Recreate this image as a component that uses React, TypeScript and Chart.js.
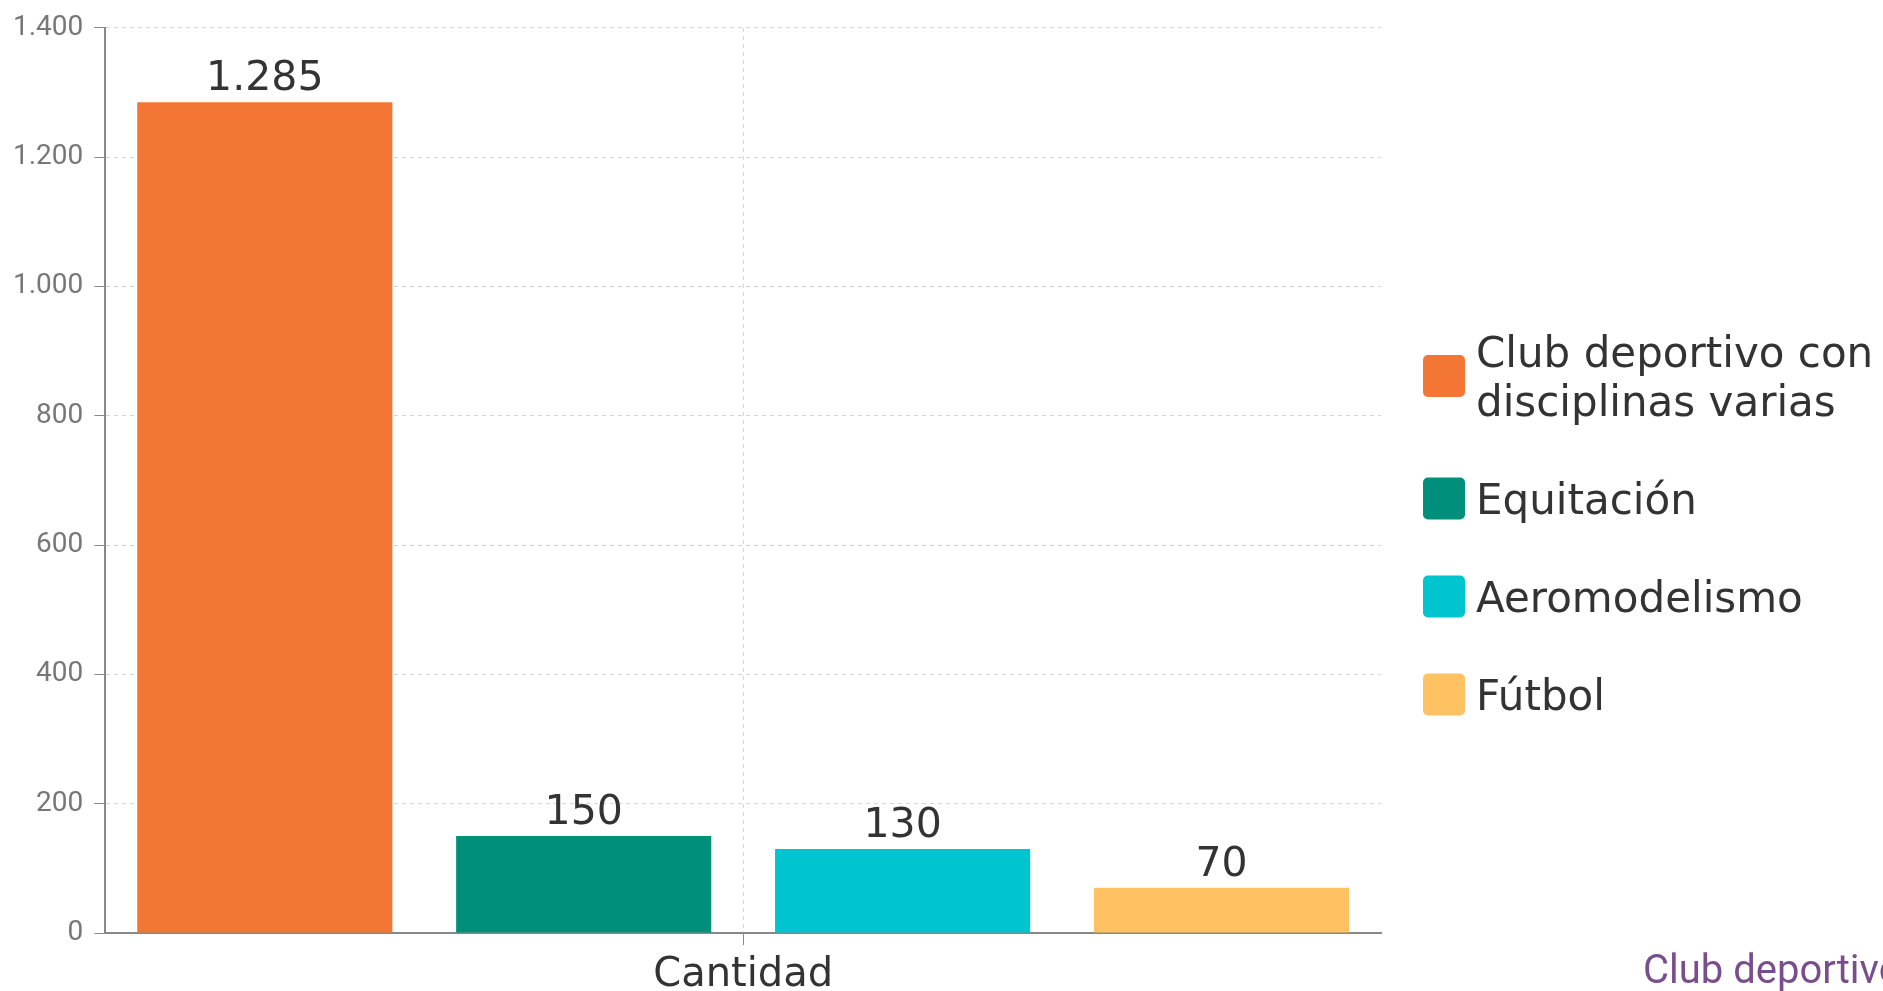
import React, { useEffect, useRef } from "react";
import { Chart, registerables } from "chart.js";

Chart.register(...registerables);

const categories: string[] = ["Cantidad"];
const seriesNames: string[][] = [
  ["Club deportivo con", "disciplinas varias"],
  ["Equitación"],
  ["Aeromodelismo"],
  ["Fútbol"],
];
const seriesValues: number[] = [1285, 150, 130, 70];
const seriesColors: string[] = ["#F47634", "#008F7A", "#00C4CE", "#FEC262"];
const yTicks: number[] = [0, 200, 400, 600, 800, 1000, 1200, 1400];
const titleText = "Club deportivo con disciplinas varias";

const fmt = (n: number) => String(n).replace(/\B(?=(\d{3})+(?!\d))/g, ".");

const LABEL_FONT = '"DejaVu Sans", sans-serif';

const overlayPlugin = {
  id: "overlay",
  afterDatasetsDraw(chart: any) {
    const ctx = chart.ctx as CanvasRenderingContext2D;
    chart.data.datasets.forEach((ds: any, i: number) => {
      const meta = chart.getDatasetMeta(i);
      meta.data.forEach((el: any, j: number) => {
        const v = ds.data[j];
        ctx.save();
        ctx.font = `41px ${LABEL_FONT}`;
        ctx.fillStyle = "#333333";
        ctx.textAlign = "center";
        ctx.textBaseline = "alphabetic";
        ctx.fillText(fmt(v), el.x, el.y - 12);
        ctx.restore();
      });
    });
  },
  afterDraw(chart: any) {
    const ctx = chart.ctx as CanvasRenderingContext2D;
    const area = chart.chartArea;
    const fontSize = 42;
    const lineH = 49;
    const gap = 49;
    const box = 42;
    const boxX = area.right + 42;
    const textX = boxX + box + 11;
    let y = 327;
    ctx.save();
    ctx.font = `${fontSize}px ${LABEL_FONT}`;
    ctx.textAlign = "left";
    ctx.textBaseline = "alphabetic";
    chart.data.datasets.forEach((ds: any, i: number) => {
      const lines: string[] = Array.isArray(ds.label) ? ds.label : [ds.label];
      const h = lines.length * lineH;
      const cy = y + h / 2;
      ctx.fillStyle = ds.backgroundColor;
      ctx.beginPath();
      (ctx as any).roundRect(boxX, cy - box / 2, box, box, 5);
      ctx.fill();
      ctx.fillStyle = "#333333";
      lines.forEach((ln, k) => {
        const lc = y + lineH * k + lineH / 2;
        ctx.fillText(ln, textX, lc + fontSize * 0.36);
      });
      y += h + gap;
    });
    ctx.restore();

    ctx.save();
    ctx.font = '40px Roboto, sans-serif';
    ctx.fillStyle = "#7A4D8C";
    ctx.textAlign = "left";
    ctx.textBaseline = "alphabetic";
    ctx.fillText(titleText, 1643, 983);
    ctx.restore();
  },
};

export default function App() {
  const canvasRef = useRef<HTMLCanvasElement | null>(null);

  useEffect(() => {
    document.body.style.margin = "0";
    const canvas = canvasRef.current;
    if (!canvas) return;
    const chart = new Chart(canvas, {
      type: "bar",
      data: {
        labels: categories,
        datasets: seriesValues.map((v, i) => ({
          label: seriesNames[i] as any,
          data: [v],
          backgroundColor: seriesColors[i],
          borderWidth: 0,
          barPercentage: 0.8,
          categoryPercentage: 1.0,
        })),
      },
      options: {
        responsive: true,
        maintainAspectRatio: false,
        animation: false,
        layout: { padding: { left: 2, right: 502, top: 25, bottom: -3 } },
        plugins: {
          legend: { display: false },
          tooltip: { enabled: false },
          title: { display: false },
        },
        scales: {
          x: {
            grid: {
              offset: false,
              color: "#D4D4D4",
              lineWidth: 1,
              tickColor: "#888888",
              tickLength: 12,
            },
            border: { color: "#888888", width: 2, dash: [4, 4] },
            ticks: {
              color: "#333333",
              font: { family: LABEL_FONT, size: 40, lineHeight: 1 },
              padding: 11,
            },
          },
          y: {
            min: 0,
            max: 1400,
            afterBuildTicks: (axis: any) => {
              axis.ticks = yTicks.map((v) => ({ value: v }));
            },
            grid: {
              color: "#D4D4D4",
              lineWidth: 1,
              tickColor: "#888888",
              tickLength: 11,
            },
            border: { color: "#888888", width: 2, dash: [4, 4] },
            ticks: {
              color: "#777777",
              font: { family: "Roboto, sans-serif", size: 28 },
              padding: 11,
              callback: (v: any) => fmt(Number(v)),
            },
          },
        },
      },
      plugins: [overlayPlugin],
    });
    return () => chart.destroy();
  }, []);

  return (
    <div style={{ position: "fixed", left: 0, top: 0, width: 1883, height: 991, overflow: "hidden", background: "#fff" }}>
      <div style={{ position: "absolute", left: 0, top: 0, width: 1883, height: 1004 }}>
        <canvas ref={canvasRef} />
      </div>
    </div>
  );
}
